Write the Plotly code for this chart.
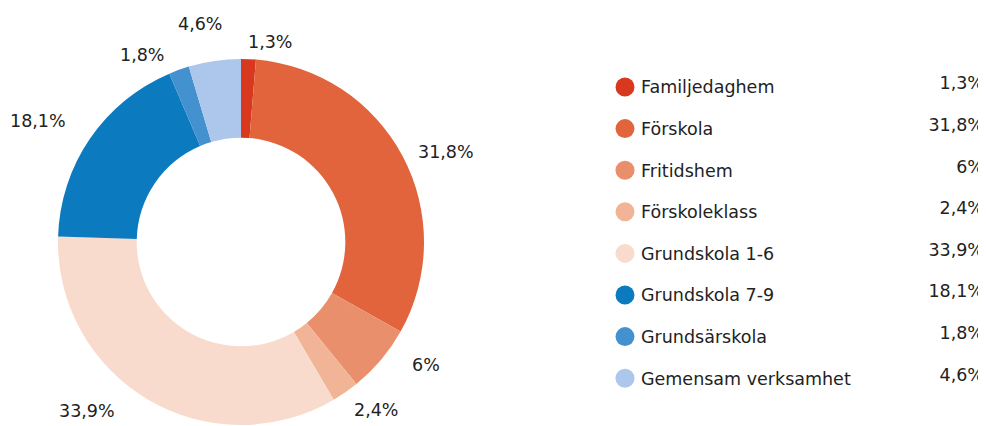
import math
import plotly.graph_objects as go

categories = ["Familjedaghem", "Förskola", "Fritidshem", "Förskoleklass",
              "Grundskola 1-6", "Grundskola 7-9", "Grundsärskola", "Gemensam verksamhet"]
values = [1.3, 31.8, 6, 2.4, 33.9, 18.1, 1.8, 4.6]
colors = ["#d8381d", "#e2643c", "#ea8f6b", "#f2b496", "#f8dbcc",
          "#0c7abf", "#4391cf", "#adc6eb"]

value_labels = [f"{v:g}".replace(".", ",") + "%" for v in values]

# small nudges (px) of the outside labels, to avoid collisions like the original
label_nudge = [(-3, 0), (-2, 4), (16, -6), (-3, 4), (-22, -3), (-8, -8), (-7, 1), (12, -20)]

FONT = "DejaVu Sans"
TXT = "#222222"
FS = 17.5
# the page body has an 8px default margin, so the figure is offset by 8px
OFF = 8
W, H = 986 - OFF, 426 - OFF

# pie geometry in screen pixels
CX, CY, R = 241, 242, 183

fig = go.Figure()

fig.add_trace(go.Pie(
    labels=categories,
    values=values,
    textinfo="none",
    hole=0.57,
    sort=False,
    direction="clockwise",
    rotation=0,
    marker=dict(colors=colors, line=dict(width=0)),
    domain=dict(x=[(CX - R - OFF) / W, (CX + R - OFF) / W],
                y=[max(0, (H - (CY + R - OFF)) / H), (H - (CY - R - OFF)) / H]),
    showlegend=False,
    hoverinfo="label+value",
))

# outside value labels, positioned from the slice mid-angles
total = sum(values)
cum = 0.0
annotations = []
for v, lab, (dx, dy) in zip(values, value_labels, label_nudge):
    mid = (cum + v / 2) / total * 2 * math.pi
    cum += v
    px = CX + 200 * math.sin(mid) + dx
    py = CY - 200 * math.cos(mid) + dy
    annotations.append(dict(
        x=px, y=py, xref="x", yref="y", text=lab, showarrow=False,
        xanchor="left" if math.sin(mid) >= 0 else "right", yanchor="middle",
        font=dict(family=FONT, size=FS, color=TXT),
    ))

# custom legend rows
row_y = [87 + i * 41.6 for i in range(len(categories))]
fig.add_trace(go.Scatter(
    x=[625] * len(categories), y=row_y,
    mode="markers",
    marker=dict(size=19, color=colors, line=dict(width=0)),
    showlegend=False, hoverinfo="skip", cliponaxis=False,
))
fig.add_trace(go.Scatter(
    x=[641] * len(categories), y=[y + 2 for y in row_y],
    mode="text",
    text=categories,
    textposition="middle right",
    textfont=dict(family=FONT, size=FS, color=TXT),
    showlegend=False, hoverinfo="skip", cliponaxis=False,
))
fig.add_trace(go.Scatter(
    x=[984] * len(categories), y=[y - 2 for y in row_y],
    mode="text",
    text=value_labels,
    textposition="middle left",
    textfont=dict(family=FONT, size=FS, color=TXT),
    showlegend=False, hoverinfo="skip", cliponaxis=False,
))

fig.update_layout(
    width=W, height=H,
    margin=dict(l=0, r=0, t=0, b=0),
    paper_bgcolor="white",
    plot_bgcolor="rgba(0,0,0,0)",
    xaxis=dict(range=[OFF, 986], domain=[0, 1], visible=False, fixedrange=True),
    yaxis=dict(range=[OFF + H, OFF], domain=[0, 1], visible=False, fixedrange=True),
    font=dict(family=FONT, size=FS, color=TXT),
    annotations=annotations,
)

fig.write_html("out.html")
